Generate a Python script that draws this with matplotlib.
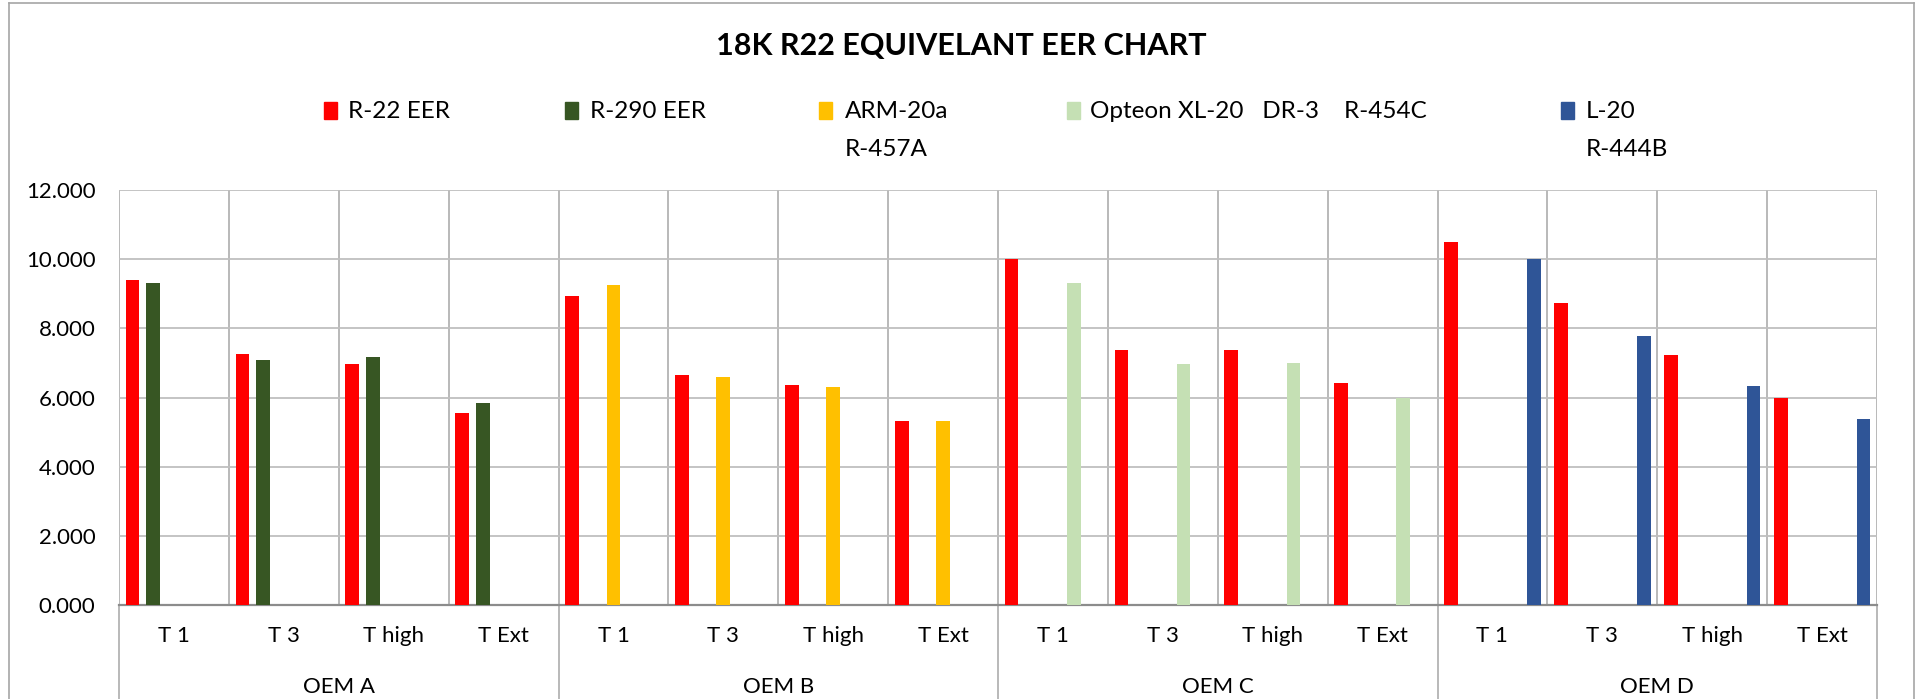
import numpy as np
import matplotlib
matplotlib.use("Agg")
import matplotlib.pyplot as plt
from matplotlib.lines import Line2D
from matplotlib.patches import Rectangle

plt.rcParams['font.family'] = ['Lato', 'DejaVu Sans']

# ---------------- data ----------------
temps = ["T 1", "T 3", "T high", "T Ext"]
oems = ["OEM A", "OEM B", "OEM C", "OEM D"]
nan = np.nan

r22_eer = [9.41, 7.26, 6.97, 5.54, 8.93, 6.65, 6.37, 5.32,
           10.00, 7.36, 7.36, 6.43, 10.51, 8.74, 7.22, 5.98]
r290_eer = [9.31, 7.09, 7.17, 5.85] + [nan] * 12
arm20a = [nan] * 4 + [9.26, 6.58, 6.31, 5.32] + [nan] * 8
opteon = [nan] * 8 + [9.31, 6.97, 7.00, 6.00] + [nan] * 4
l20 = [nan] * 12 + [10.00, 7.78, 6.32, 5.39]

series_names = ["R-22 EER", "R-290 EER", "ARM-20a\nR-457A",
                "Opteon XL-20   DR-3    R-454C", "L-20\nR-444B"]
series_vals = [r22_eer, r290_eer, arm20a, opteon, l20]
colors = ["#FF0000", "#375623", "#FFC000", "#C5E0B4", "#2F5597"]

# ---------------- figure ----------------
W, H = 1923, 699
fig = plt.figure(figsize=(W / 100, H / 100), dpi=100)
fig.patch.set_facecolor("white")

px_l, px_r, px_t, px_b = 119, 1877, 190, 605
ax = fig.add_axes([px_l / W, 1 - px_b / H, (px_r - px_l) / W, (px_b - px_t) / H])

n_cat = len(oems) * len(temps)
x = np.arange(n_cat)
pitch = 0.1885
bar_w = 0.125
for k, (vals, c) in enumerate(zip(series_vals, colors)):
    ax.bar(x + (k - 2) * pitch, vals, width=bar_w, color=c, zorder=3)

ax.set_xlim(-0.5, n_cat - 0.5)
ax.set_ylim(0, 12)
ax.set_yticks(np.arange(0, 12.1, 2))
ax.set_yticklabels([f"{v:.3f}" for v in np.arange(0, 12.1, 2)], fontsize=16)
ax.tick_params(axis="y", length=0, pad=17)

ax.set_xticks(x)
ax.set_xticklabels(temps * len(oems), fontsize=16)
ax.tick_params(axis="x", length=0, pad=15)
ax.set_xticks(np.arange(-0.5, n_cat, 1), minor=True)
ax.tick_params(axis="x", which="minor", length=0)

ax.grid(axis="y", color="#BFBFBF", linewidth=1.3, zorder=0)
ax.grid(axis="x", which="minor", color="#A6A6A6", linewidth=1.1, zorder=0)
for s in ["top", "right", "left"]:
    ax.spines[s].set_visible(False)
ax.spines["bottom"].set_color("#8C8C8C")
ax.spines["bottom"].set_linewidth(1.6)

# group separators below the axis and OEM labels
tr = ax.get_xaxis_transform()
for b in np.arange(-0.5, n_cat, len(temps)):
    ax.plot([b, b], [0, -0.3], transform=tr, color="#A6A6A6", lw=1.1, clip_on=False)
for i, name in enumerate(oems):
    ax.text(i * len(temps) + 1.5, -(687 - px_b) / (px_b - px_t), name,
            transform=tr, ha="center", va="center", fontsize=16)

# title
fig.text(0.5 * (720 + 1203) / W, 1 - 46 / H, "18K R22 EQUIVELANT EER CHART",
         ha="center", va="center", fontsize=22, fontweight="bold")

# legend (Excel style, wrapped entries)
marker_x = [324, 565, 819, 1067, 1561]
text_x = [348, 590, 845, 1090, 1586]
row_y = [111, 149]
for mx, tx, name, c in zip(marker_x, text_x, series_names, colors):
    fig.add_artist(Rectangle((mx / W, 1 - 119 / H), 13 / W, 17 / H,
                             transform=fig.transFigure, color=c))
    for line, ry in zip(name.split("\n"), row_y):
        fig.text(tx / W, 1 - ry / H, line, ha="left", va="center", fontsize=17.5)

# chart frame
fc = "#A6A6A6"
fig.add_artist(Line2D([9 / W, 9 / W], [0, 1 - 3 / H], color=fc, lw=1.2))
fig.add_artist(Line2D([1914 / W, 1914 / W], [0, 1 - 3 / H], color=fc, lw=1.2))
fig.add_artist(Line2D([9 / W, 1914 / W], [1 - 3 / H, 1 - 3 / H], color=fc, lw=1.2))

fig.savefig("out.png", dpi=100)
plt.close(fig)
